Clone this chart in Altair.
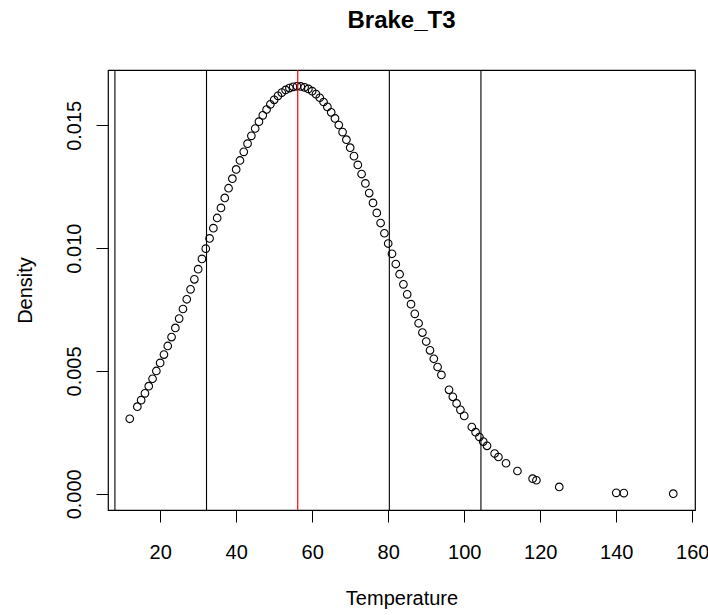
import altair as alt
import pandas as pd

# Temperature observations (x) and their plotted density (y)
temperature = [12, 14, 15, 16, 17, 18, 19, 20, 21, 22, 23, 24, 25, 26, 27, 28, 29, 30,
               31, 32, 33, 34, 35, 36, 37, 38, 39, 40, 41, 42, 43, 44, 45, 46, 47, 48,
               49, 50, 51, 52, 53, 54, 55, 56, 57, 58, 59, 60, 61, 62, 63, 64, 65, 66,
               67, 68, 69, 70, 71, 72, 73, 74, 75, 76, 77, 78, 79, 80, 81, 82, 83, 84,
               85, 86, 87, 88, 89, 90, 91, 92, 93, 94, 96, 97, 98, 99, 100, 102, 103,
               104, 105, 106, 108, 109, 111, 114, 118, 119, 125, 140, 142, 155]
density = [0.003053, 0.003545, 0.003811, 0.004089, 0.004380, 0.004683, 0.004999, 0.005327,
           0.005667, 0.006017, 0.006379, 0.006751, 0.007131, 0.007521, 0.007917, 0.008321,
           0.008730, 0.009143, 0.009560, 0.009977, 0.010396, 0.010813, 0.011227, 0.011637,
           0.012042, 0.012438, 0.012826, 0.013202, 0.013568, 0.013918, 0.014252, 0.014570,
           0.014869, 0.015148, 0.015405, 0.015641, 0.015852, 0.016037, 0.016198, 0.016331,
           0.016437, 0.016515, 0.016566, 0.016587, 0.016580, 0.016544, 0.016480, 0.016388,
           0.016268, 0.016121, 0.015947, 0.015749, 0.015526, 0.015279, 0.015011, 0.014722,
           0.014413, 0.014087, 0.013744, 0.013387, 0.013016, 0.012633, 0.012241, 0.011840,
           0.011433, 0.011021, 0.010605, 0.010187, 0.009769, 0.009352, 0.008937, 0.008525,
           0.008119, 0.007718, 0.007325, 0.006940, 0.006563, 0.006197, 0.005840, 0.005495,
           0.005161, 0.004839, 0.004232, 0.003948, 0.003676, 0.003417, 0.003171, 0.002717,
           0.002508, 0.002311, 0.002126, 0.001953, 0.001639, 0.001497, 0.001243, 0.000928,
           0.000614, 0.000551, 0.000279, 0.0000386, 0.0000288, 0.0000036]

sd_lines = [8.1, 32.2, 80.3, 104.4]   # mean +/- 1 and 2 sd
mean_line = [56.2]

x_ticks = [20, 40, 60, 80, 100, 120, 140, 160]
y_ticks = [0.0, 0.005, 0.010, 0.015]

FONT = "Liberation Sans"

pts = pd.DataFrame({"Temperature": temperature, "Density": density})
sd_df = pd.DataFrame({"v": sd_lines})
mean_df = pd.DataFrame({"v": mean_line})

xscale = alt.Scale(domain=[6.28, 160.72], nice=False, zero=False)
yscale = alt.Scale(domain=[-0.00066, 0.01725], nice=False, zero=False)

x_axis = alt.Axis(values=x_ticks, format="d", grid=False, domain=False,
                  tickSize=12, tickColor="black", labelFont=FONT, labelFontSize=20,
                  labelColor="black", labelPadding=20, labelBaseline="top",
                  labelFlush=False, labelOverlap=False,
                  title="Temperature", titleFont=FONT, titleFontSize=20,
                  titleFontWeight="normal", titleColor="black",
                  titleX=293.5, titleY=88, titleBaseline="middle", titleAlign="center")
y_axis = alt.Axis(values=y_ticks, format=".3f", grid=False, domain=False,
                  tickSize=12, tickColor="black", labelFont=FONT, labelFontSize=20,
                  labelColor="black", labelAngle=270, labelAlign="center",
                  labelBaseline="bottom", labelPadding=12, labelFlush=False,
                  labelOverlap=False,
                  title="Density", titleFont=FONT, titleFontSize=20,
                  titleFontWeight="normal", titleColor="black",
                  titleAngle=270, titleX=-83, titleY=220, titleBaseline="middle",
                  titleAlign="center")

points = alt.Chart(pts).mark_point(shape="circle", filled=False, color="black",
                                   size=58, strokeWidth=1.1, opacity=1).encode(
    x=alt.X("Temperature:Q", scale=xscale, axis=x_axis),
    y=alt.Y("Density:Q", scale=yscale, axis=y_axis),
)

sd_rules = alt.Chart(sd_df).mark_rule(color="black", strokeWidth=1.1).encode(
    x=alt.X("v:Q", scale=xscale),
)
mean_rule = alt.Chart(mean_df).mark_rule(color="#ff0000", strokeWidth=1.2).encode(
    x=alt.X("v:Q", scale=xscale),
)

chart = alt.layer(points, sd_rules, mean_rule).properties(
    width=587, height=440,
    title=alt.TitleParams("Brake_T3", font=FONT, fontSize=24, fontWeight="bold",
                          color="black", anchor="middle", offset=36),
    autosize=alt.AutoSizeParams(type="none"),
    padding={"left": 108, "top": 70, "right": 13, "bottom": 105},
    background="white",
).configure_view(stroke="black", strokeWidth=1.2)

chart.save("out.html", embed_options={"renderer": "svg", "actions": False})
